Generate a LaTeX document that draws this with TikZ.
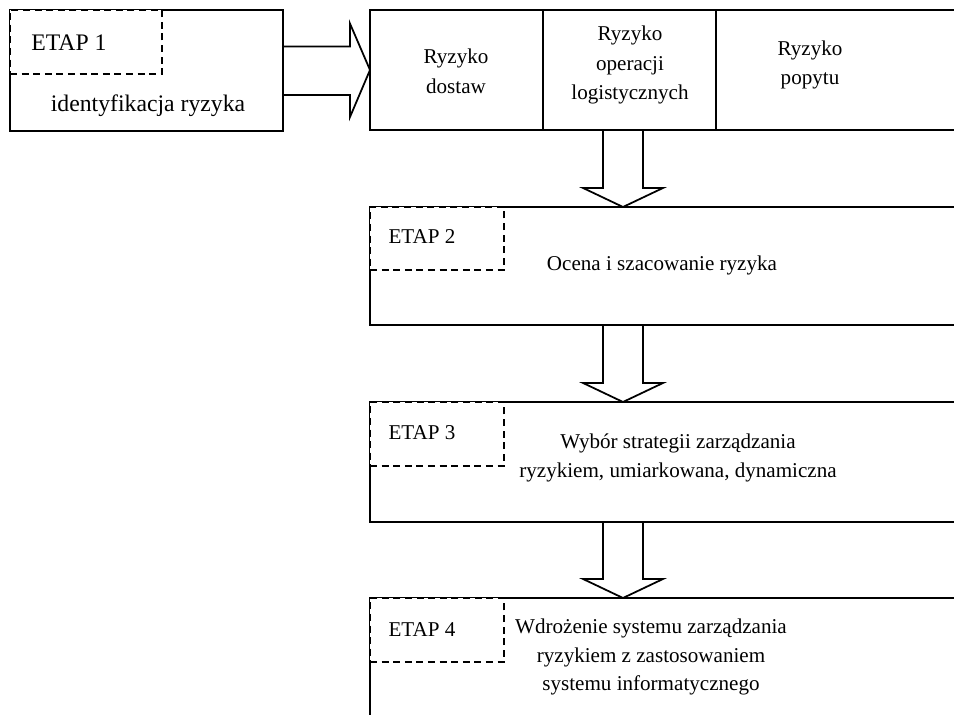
\documentclass[tikz,border=0pt]{standalone}
\usepackage{fontspec}
\setmainfont{Liberation Serif}
\usetikzlibrary{positioning}
\tikzset{box/.style = {draw, line width = 1.6pt, rectangle, inner sep = 0, outer sep = 0,
                       anchor = north west}}
\tikzset{tag/.style = {draw, fill = white, line width = 1.6pt, dash pattern = on 4pt off 2.6pt,
                       rectangle, inner sep = 0, outer sep = 0, anchor = north west}}
\tikzset{txt/.style = {align = center, inner sep = 0}}
\tikzset{big/.style = {font = \fontsize{13.5}{17}\selectfont}}
\tikzset{blockarrow/.style = {line width = 1pt, line join = miter}}

\begin{document}
\begin{tikzpicture}[x = 0.02cm, y = -0.02cm]
    \useasboundingbox (0, 0) rectangle (954, 715);
    \fontsize{12}{17}\selectfont

    % etap 1
    \node [box, minimum width = 5.46cm, minimum height = 2.42cm] (etap1) at (10, 10) {};
    \node [tag, minimum width = 3.04cm, minimum height = 1.28cm] (tag1) at (10, 10) {};
    \node [txt, big] (etap1lab) at (69, 43) {ETAP 1};
    \node [txt, big] (etap1txt) at (148, 106) {identyfikacja ryzyka};

    % rodzaje ryzyka
    \node [box, minimum width = 3.46cm, minimum height = 2.4cm] (dostawy) at (370, 10) {};
    \node [box, minimum width = 3.46cm, minimum height = 2.4cm] (operacje) at (543, 10) {};
    \node [box, minimum width = 5.28cm, minimum height = 2.4cm] (popyt) at (716, 10) {};
    \node [txt] (dostawytxt) at (456, 71) {Ryzyko\\dostaw};
    \node [txt] (operacjetxt) at (630, 65) {Ryzyko\\operacji\\logistycznych};
    \node [txt] (popyttxt) at (810, 65) {Ryzyko\\popytu};

    % etap 2
    \node [box, minimum width = 12.2cm, minimum height = 2.36cm] (etap2) at (370, 207) {};
    \node [tag, minimum width = 2.68cm, minimum height = 1.26cm] (tag2) at (370, 207) {};
    \node [txt] (etap2lab) at (422, 237) {ETAP 2};
    \node [txt] (etap2txt) at (662, 265) {Ocena i szacowanie ryzyka};

    % etap 3
    \node [box, minimum width = 12.2cm, minimum height = 2.4cm] (etap3) at (370, 402) {};
    \node [tag, minimum width = 2.68cm, minimum height = 1.28cm] (tag3) at (370, 402) {};
    \node [txt] (etap3lab) at (422, 433) {ETAP 3};
    \node [txt] (etap3txt) at (678, 458) {Wybór strategii zarządzania\\ryzykiem, umiarkowana, dynamiczna};

    % etap 4
    \node [box, minimum width = 12.2cm, minimum height = 3.4cm] (etap4) at (370, 598) {};
    \node [tag, minimum width = 2.68cm, minimum height = 1.28cm] (tag4) at (370, 598) {};
    \node [txt] (etap4lab) at (422, 630) {ETAP 4};
    \node [txt, font = \fontsize{12}{16}\selectfont] (etap4txt) at (651, 657)
        {Wdrożenie systemu zarządzania\\ryzykiem z zastosowaniem\\systemu informatycznego};

    % strzalki
    \coordinate (ax) at (623, 0);
    \draw [blockarrow] (etap1.east) ++(0, -24) -- ++(67, 0) -- ++(0, -23)
        -- (dostawy.west) -- ++(-20, 47) -- ++(0, -22) -- ++(-67, 0);
    \draw [blockarrow] (ax |- operacje.south) ++(-20, 0) -- ++(0, 58) -- ++(-20, 0)
        -- (ax |- etap2.north) -- ++(40, -19) -- ++(-20, 0) -- ++(0, -58);
    \draw [blockarrow] (ax |- etap2.south) ++(-20, 0) -- ++(0, 58) -- ++(-20, 0)
        -- (ax |- etap3.north) -- ++(40, -19) -- ++(-20, 0) -- ++(0, -58);
    \draw [blockarrow] (ax |- etap3.south) ++(-20, 0) -- ++(0, 57) -- ++(-20, 0)
        -- (ax |- etap4.north) -- ++(40, -19) -- ++(-20, 0) -- ++(0, -57);
\end{tikzpicture}
\end{document}
